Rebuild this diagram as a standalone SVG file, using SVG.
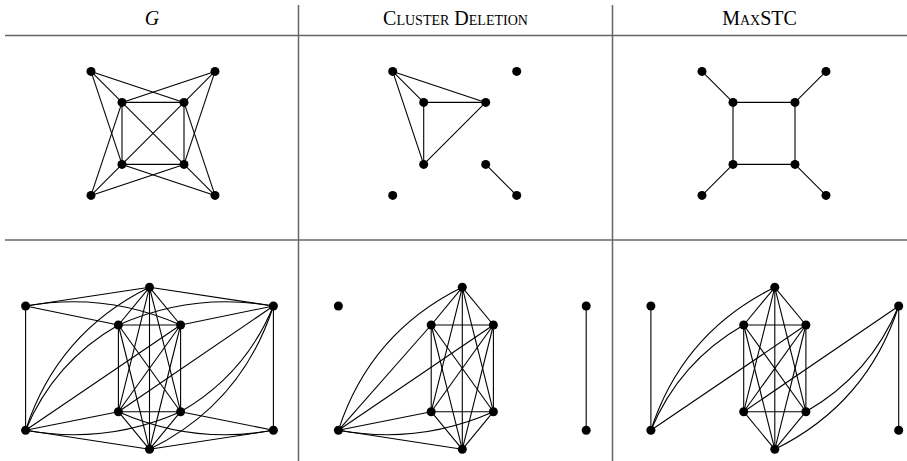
<svg xmlns="http://www.w3.org/2000/svg" width="907" height="461" viewBox="0 0 907 461">
<style>
.rule{stroke:#666;stroke-width:1.5;fill:none}
.e{stroke:#000;stroke-width:1.1;fill:none}
.n{fill:#000}
.hd{font-family:"Liberation Serif","DejaVu Serif",serif;font-size:20px;fill:#000;text-anchor:middle}
.sc{font-variant:small-caps}
</style>
<rect width="907" height="461" fill="#fff"/>
<g id="table">
<line class="rule" x1="5" y1="35.5" x2="907" y2="35.5"/>
<line class="rule" x1="5" y1="240" x2="907" y2="240"/>
<line class="rule" x1="298.5" y1="5" x2="298.5" y2="461"/>
<line class="rule" x1="612.5" y1="5" x2="612.5" y2="461"/>
</g>
<g id="headers">
<text class="hd" x="152" y="25" font-style="italic">G</text>
<text class="hd sc" x="455.5" y="25">Cluster Deletion</text>
<text class="hd sc" x="759.5" y="25">MaxSTC</text>
</g>
<g id="connectors">
<!-- top G -->
<line class="e" x1="122" y1="102.4" x2="184" y2="102.4"/>
<line class="e" x1="184" y1="102.4" x2="184" y2="164.4"/>
<line class="e" x1="184" y1="164.4" x2="122" y2="164.4"/>
<line class="e" x1="122" y1="164.4" x2="122" y2="102.4"/>
<line class="e" x1="122" y1="102.4" x2="184" y2="164.4"/>
<line class="e" x1="184" y1="102.4" x2="122" y2="164.4"/>
<line class="e" x1="91" y1="71.4" x2="122" y2="102.4"/>
<line class="e" x1="91" y1="71.4" x2="184" y2="102.4"/>
<line class="e" x1="91" y1="71.4" x2="122" y2="164.4"/>
<line class="e" x1="215" y1="71.4" x2="184" y2="102.4"/>
<line class="e" x1="215" y1="71.4" x2="122" y2="102.4"/>
<line class="e" x1="215" y1="71.4" x2="184" y2="164.4"/>
<line class="e" x1="91" y1="195.4" x2="122" y2="164.4"/>
<line class="e" x1="91" y1="195.4" x2="184" y2="164.4"/>
<line class="e" x1="91" y1="195.4" x2="122" y2="102.4"/>
<line class="e" x1="215" y1="195.4" x2="184" y2="164.4"/>
<line class="e" x1="215" y1="195.4" x2="122" y2="164.4"/>
<line class="e" x1="215" y1="195.4" x2="184" y2="102.4"/>
<!-- top Cluster Deletion -->
<line class="e" x1="392.7" y1="71.4" x2="423.7" y2="102.4"/>
<line class="e" x1="392.7" y1="71.4" x2="485.7" y2="102.4"/>
<line class="e" x1="392.7" y1="71.4" x2="423.7" y2="164.4"/>
<line class="e" x1="423.7" y1="102.4" x2="485.7" y2="102.4"/>
<line class="e" x1="423.7" y1="102.4" x2="423.7" y2="164.4"/>
<line class="e" x1="485.7" y1="102.4" x2="423.7" y2="164.4"/>
<line class="e" x1="485.7" y1="164.4" x2="516.7" y2="195.4"/>
<!-- top MaxSTC -->
<line class="e" x1="733" y1="102.4" x2="795" y2="102.4"/>
<line class="e" x1="795" y1="102.4" x2="795" y2="164.4"/>
<line class="e" x1="795" y1="164.4" x2="733" y2="164.4"/>
<line class="e" x1="733" y1="164.4" x2="733" y2="102.4"/>
<line class="e" x1="702" y1="71.4" x2="733" y2="102.4"/>
<line class="e" x1="826" y1="71.4" x2="795" y2="102.4"/>
<line class="e" x1="702" y1="195.4" x2="733" y2="164.4"/>
<line class="e" x1="826" y1="195.4" x2="795" y2="164.4"/>
<!-- bottom G: K6 on T,a,b,c,d,B -->
<line class="e" x1="149.5" y1="287.3" x2="118.4" y2="325"/>
<line class="e" x1="149.5" y1="287.3" x2="180.6" y2="325"/>
<line class="e" x1="149.5" y1="287.3" x2="118.4" y2="411.7"/>
<line class="e" x1="149.5" y1="287.3" x2="180.6" y2="411.7"/>
<line class="e" x1="149.5" y1="287.3" x2="149.5" y2="449.3"/>
<line class="e" x1="118.4" y1="325" x2="180.6" y2="325"/>
<line class="e" x1="118.4" y1="325" x2="118.4" y2="411.7"/>
<line class="e" x1="118.4" y1="325" x2="180.6" y2="411.7"/>
<line class="e" x1="118.4" y1="325" x2="149.5" y2="449.3"/>
<line class="e" x1="180.6" y1="325" x2="118.4" y2="411.7"/>
<line class="e" x1="180.6" y1="325" x2="180.6" y2="411.7"/>
<line class="e" x1="180.6" y1="325" x2="149.5" y2="449.3"/>
<line class="e" x1="118.4" y1="411.7" x2="180.6" y2="411.7"/>
<line class="e" x1="118.4" y1="411.7" x2="149.5" y2="449.3"/>
<line class="e" x1="180.6" y1="411.7" x2="149.5" y2="449.3"/>
<!-- bottom G: outer -->
<line class="e" x1="25.6" y1="306" x2="25.6" y2="430.3"/>
<line class="e" x1="25.6" y1="306" x2="149.5" y2="287.3"/>
<line class="e" x1="25.6" y1="306" x2="118.4" y2="325"/>
<path class="e" d="M25.6,306 Q106,291.7 180.6,325"/>
<line class="e" x1="273.4" y1="306" x2="273.4" y2="430.3"/>
<line class="e" x1="273.4" y1="430.3" x2="149.5" y2="449.3"/>
<line class="e" x1="273.4" y1="430.3" x2="180.6" y2="411.7"/>
<path class="e" d="M273.4,430.3 Q193,444.9 118.4,411.7"/>
<path class="e" d="M25.6,430.3 Q57.3,332.6 149.5,287.3"/>
<path class="e" d="M25.6,430.3 Q54,361.8 118.4,325"/>
<line class="e" x1="25.6" y1="430.3" x2="180.6" y2="325"/>
<line class="e" x1="25.6" y1="430.3" x2="118.4" y2="411.7"/>
<path class="e" d="M25.6,430.3 Q106,444.8 180.6,411.7"/>
<line class="e" x1="25.6" y1="430.3" x2="149.5" y2="449.3"/>
<path class="e" d="M273.4,306 Q241.7,404 149.5,449.3"/>
<path class="e" d="M273.4,306 Q245,374.8 180.6,411.7"/>
<line class="e" x1="273.4" y1="306" x2="118.4" y2="411.7"/>
<line class="e" x1="273.4" y1="306" x2="180.6" y2="325"/>
<path class="e" d="M273.4,306 Q193,291.8 118.4,325"/>
<line class="e" x1="273.4" y1="306" x2="149.5" y2="287.3"/>
<!-- bottom Cluster Deletion: K7 -->
<line class="e" x1="462.3" y1="287.3" x2="431.2" y2="325"/>
<line class="e" x1="462.3" y1="287.3" x2="493.4" y2="325"/>
<line class="e" x1="462.3" y1="287.3" x2="431.2" y2="411.7"/>
<line class="e" x1="462.3" y1="287.3" x2="493.4" y2="411.7"/>
<line class="e" x1="462.3" y1="287.3" x2="462.3" y2="449.3"/>
<line class="e" x1="431.2" y1="325" x2="493.4" y2="325"/>
<line class="e" x1="431.2" y1="325" x2="431.2" y2="411.7"/>
<line class="e" x1="431.2" y1="325" x2="493.4" y2="411.7"/>
<line class="e" x1="431.2" y1="325" x2="462.3" y2="449.3"/>
<line class="e" x1="493.4" y1="325" x2="431.2" y2="411.7"/>
<line class="e" x1="493.4" y1="325" x2="493.4" y2="411.7"/>
<line class="e" x1="493.4" y1="325" x2="462.3" y2="449.3"/>
<line class="e" x1="431.2" y1="411.7" x2="493.4" y2="411.7"/>
<line class="e" x1="431.2" y1="411.7" x2="462.3" y2="449.3"/>
<line class="e" x1="493.4" y1="411.7" x2="462.3" y2="449.3"/>
<path class="e" d="M338.4,430.3 Q370.1,332.6 462.3,287.3"/>
<line class="e" x1="338.4" y1="430.3" x2="431.2" y2="325"/>
<line class="e" x1="338.4" y1="430.3" x2="493.4" y2="325"/>
<line class="e" x1="338.4" y1="430.3" x2="431.2" y2="411.7"/>
<path class="e" d="M338.4,430.3 Q418.8,444.8 493.4,411.7"/>
<line class="e" x1="338.4" y1="430.3" x2="462.3" y2="449.3"/>
<line class="e" x1="586.2" y1="306" x2="586.2" y2="430.3"/>
<!-- bottom MaxSTC: K6 -->
<line class="e" x1="774.8" y1="287.3" x2="743.7" y2="325"/>
<line class="e" x1="774.8" y1="287.3" x2="805.9" y2="325"/>
<line class="e" x1="774.8" y1="287.3" x2="743.7" y2="411.7"/>
<line class="e" x1="774.8" y1="287.3" x2="805.9" y2="411.7"/>
<line class="e" x1="774.8" y1="287.3" x2="774.8" y2="449.3"/>
<line class="e" x1="743.7" y1="325" x2="805.9" y2="325"/>
<line class="e" x1="743.7" y1="325" x2="743.7" y2="411.7"/>
<line class="e" x1="743.7" y1="325" x2="805.9" y2="411.7"/>
<line class="e" x1="743.7" y1="325" x2="774.8" y2="449.3"/>
<line class="e" x1="805.9" y1="325" x2="743.7" y2="411.7"/>
<line class="e" x1="805.9" y1="325" x2="805.9" y2="411.7"/>
<line class="e" x1="805.9" y1="325" x2="774.8" y2="449.3"/>
<line class="e" x1="743.7" y1="411.7" x2="805.9" y2="411.7"/>
<line class="e" x1="743.7" y1="411.7" x2="774.8" y2="449.3"/>
<line class="e" x1="805.9" y1="411.7" x2="774.8" y2="449.3"/>
<line class="e" x1="650.9" y1="306" x2="650.9" y2="430.3"/>
<line class="e" x1="898.7" y1="306" x2="898.7" y2="430.3"/>
<path class="e" d="M650.9,430.3 Q682.6,332.6 774.8,287.3"/>
<path class="e" d="M650.9,430.3 Q679.3,361.8 743.7,325"/>
<line class="e" x1="650.9" y1="430.3" x2="805.9" y2="325"/>
<line class="e" x1="898.7" y1="306" x2="743.7" y2="411.7"/>
<path class="e" d="M898.7,306 Q870.3,374.8 805.9,411.7"/>
<path class="e" d="M898.7,306 Q867,404 774.8,449.3"/>
</g>
<g id="nodes-top-G">
<g id="g1-otl"><circle class="n" cx="91" cy="71.4" r="4.5"/></g>
<g id="g1-otr"><circle class="n" cx="215" cy="71.4" r="4.5"/></g>
<g id="g1-itl"><circle class="n" cx="122" cy="102.4" r="4.5"/></g>
<g id="g1-itr"><circle class="n" cx="184" cy="102.4" r="4.5"/></g>
<g id="g1-ibl"><circle class="n" cx="122" cy="164.4" r="4.5"/></g>
<g id="g1-ibr"><circle class="n" cx="184" cy="164.4" r="4.5"/></g>
<g id="g1-obl"><circle class="n" cx="91" cy="195.4" r="4.5"/></g>
<g id="g1-obr"><circle class="n" cx="215" cy="195.4" r="4.5"/></g>
</g>
<g id="nodes-top-CD">
<g id="c1-otl"><circle class="n" cx="392.7" cy="71.4" r="4.5"/></g>
<g id="c1-otr"><circle class="n" cx="516.7" cy="71.4" r="4.5"/></g>
<g id="c1-itl"><circle class="n" cx="423.7" cy="102.4" r="4.5"/></g>
<g id="c1-itr"><circle class="n" cx="485.7" cy="102.4" r="4.5"/></g>
<g id="c1-ibl"><circle class="n" cx="423.7" cy="164.4" r="4.5"/></g>
<g id="c1-ibr"><circle class="n" cx="485.7" cy="164.4" r="4.5"/></g>
<g id="c1-obl"><circle class="n" cx="392.7" cy="195.4" r="4.5"/></g>
<g id="c1-obr"><circle class="n" cx="516.7" cy="195.4" r="4.5"/></g>
</g>
<g id="nodes-top-STC">
<g id="s1-otl"><circle class="n" cx="702" cy="71.4" r="4.5"/></g>
<g id="s1-otr"><circle class="n" cx="826" cy="71.4" r="4.5"/></g>
<g id="s1-itl"><circle class="n" cx="733" cy="102.4" r="4.5"/></g>
<g id="s1-itr"><circle class="n" cx="795" cy="102.4" r="4.5"/></g>
<g id="s1-ibl"><circle class="n" cx="733" cy="164.4" r="4.5"/></g>
<g id="s1-ibr"><circle class="n" cx="795" cy="164.4" r="4.5"/></g>
<g id="s1-obl"><circle class="n" cx="702" cy="195.4" r="4.5"/></g>
<g id="s1-obr"><circle class="n" cx="826" cy="195.4" r="4.5"/></g>
</g>
<g id="nodes-bottom-G">
<g id="g2-t"><circle class="n" cx="149.5" cy="287.3" r="4.5"/></g>
<g id="g2-lt"><circle class="n" cx="25.6" cy="306" r="4.5"/></g>
<g id="g2-rt"><circle class="n" cx="273.4" cy="306" r="4.5"/></g>
<g id="g2-a"><circle class="n" cx="118.4" cy="325" r="4.5"/></g>
<g id="g2-b"><circle class="n" cx="180.6" cy="325" r="4.5"/></g>
<g id="g2-c"><circle class="n" cx="118.4" cy="411.7" r="4.5"/></g>
<g id="g2-d"><circle class="n" cx="180.6" cy="411.7" r="4.5"/></g>
<g id="g2-lb"><circle class="n" cx="25.6" cy="430.3" r="4.5"/></g>
<g id="g2-rb"><circle class="n" cx="273.4" cy="430.3" r="4.5"/></g>
<g id="g2-b0"><circle class="n" cx="149.5" cy="449.3" r="4.5"/></g>
</g>
<g id="nodes-bottom-CD">
<g id="c2-t"><circle class="n" cx="462.3" cy="287.3" r="4.5"/></g>
<g id="c2-lt"><circle class="n" cx="338.4" cy="306" r="4.5"/></g>
<g id="c2-rt"><circle class="n" cx="586.2" cy="306" r="4.5"/></g>
<g id="c2-a"><circle class="n" cx="431.2" cy="325" r="4.5"/></g>
<g id="c2-b"><circle class="n" cx="493.4" cy="325" r="4.5"/></g>
<g id="c2-c"><circle class="n" cx="431.2" cy="411.7" r="4.5"/></g>
<g id="c2-d"><circle class="n" cx="493.4" cy="411.7" r="4.5"/></g>
<g id="c2-lb"><circle class="n" cx="338.4" cy="430.3" r="4.5"/></g>
<g id="c2-rb"><circle class="n" cx="586.2" cy="430.3" r="4.5"/></g>
<g id="c2-b0"><circle class="n" cx="462.3" cy="449.3" r="4.5"/></g>
</g>
<g id="nodes-bottom-STC">
<g id="s2-t"><circle class="n" cx="774.8" cy="287.3" r="4.5"/></g>
<g id="s2-lt"><circle class="n" cx="650.9" cy="306" r="4.5"/></g>
<g id="s2-rt"><circle class="n" cx="898.7" cy="306" r="4.5"/></g>
<g id="s2-a"><circle class="n" cx="743.7" cy="325" r="4.5"/></g>
<g id="s2-b"><circle class="n" cx="805.9" cy="325" r="4.5"/></g>
<g id="s2-c"><circle class="n" cx="743.7" cy="411.7" r="4.5"/></g>
<g id="s2-d"><circle class="n" cx="805.9" cy="411.7" r="4.5"/></g>
<g id="s2-lb"><circle class="n" cx="650.9" cy="430.3" r="4.5"/></g>
<g id="s2-rb"><circle class="n" cx="898.7" cy="430.3" r="4.5"/></g>
<g id="s2-b0"><circle class="n" cx="774.8" cy="449.3" r="4.5"/></g>
</g>
</svg>
